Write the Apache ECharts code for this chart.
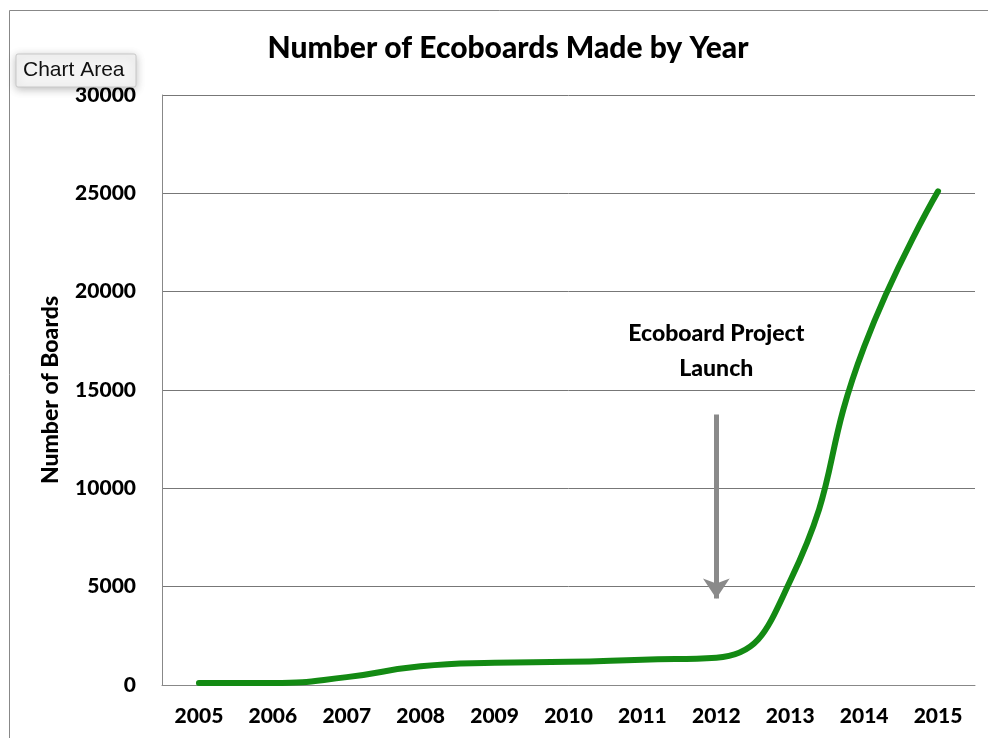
<!DOCTYPE html>
<html>
<head>
<meta charset="utf-8">
<script src="https://cdn.jsdelivr.net/npm/echarts@6/dist/echarts.min.js"></script>
<style>
html,body{margin:0;padding:0;background:#fff;}
#c{width:988px;height:738px;}
</style>
</head>
<body>
<div id="c"></div>
<script>
const years = ['2005','2006','2007','2008','2009','2010','2011','2012','2013','2014','2015'];
const boards = [100, 100, 400, 950, 1130, 1180, 1290, 1390, 5300, 17200, 25100];
const yTicks = {min: 0, max: 30000, interval: 5000};
const annotationText = 'Ecoboard Project\nLaunch';
const annotationYear = '2012';
const arrowFrom = 13750;
const arrowTo = 4400;
const annotationTextAt = 17000;

const chart = echarts.init(document.getElementById('c'), null, {renderer: 'canvas'});
const FONT = 'Lato';
const W = 900;
chart.setOption({
  backgroundColor: '#ffffff',
  animation: false,
  title: {
    text: 'Number of Ecoboards Made by Year',
    left: 503, top: 28, textAlign: 'center',
    textStyle: {fontFamily: FONT, fontWeight: W, fontSize: 30, color: '#000'}
  },
  graphic: [
    {type: 'rect', shape: {x: 9.5, y: 10.5, width: 1100, height: 800}, style: {fill: 'none', stroke: '#888', lineWidth: 1}, silent: true},
    {type: 'rect', shape: {x: 16, y: 54, width: 120, height: 33, r: 2}, z: 100,
      style: {fill: '#f4f4f4', stroke: '#c8c8c8', lineWidth: 1, shadowBlur: 8, shadowColor: 'rgba(0,0,0,0.25)', shadowOffsetY: 2}},
    {type: 'text', left: 23, top: 60, z: 101,
      style: {text: 'Chart Area', font: '21px "Liberation Sans", Arial, sans-serif', fill: '#111'}}
  ],
  grid: {left: 162, right: 13, top: 95, bottom: 53, containLabel: false},
  xAxis: {
    type: 'category', data: years, boundaryGap: true,
    axisLine: {show: true, lineStyle: {color: '#888', width: 1}},
    axisTick: {show: false},
    axisLabel: {fontFamily: FONT, fontWeight: W, fontSize: 21, color: '#000', margin: 21},
    splitLine: {show: false}
  },
  yAxis: {
    type: 'value', min: yTicks.min, max: yTicks.max, interval: yTicks.interval,
    name: 'Number of Boards', nameLocation: 'middle', nameGap: 100, nameRotate: 90,
    nameTextStyle: {fontFamily: FONT, fontWeight: W, fontSize: 23, color: '#000'},
    axisLine: {show: true, lineStyle: {color: '#888', width: 1}},
    axisTick: {show: false},
    axisLabel: {fontFamily: FONT, fontWeight: W, fontSize: 21, color: '#000', margin: 26, formatter: v => String(v)},
    splitLine: {show: true, lineStyle: {color: '#777', width: 1}}
  },
  series: [{
    type: 'line', data: boards, smooth: 0.5, symbol: 'none',
    lineStyle: {color: '#138a13', width: 6, cap: 'round'},
    markLine: {
      silent: true, symbol: ['none', 'arrow'], symbolSize: [20, 20],
      lineStyle: {color: '#8a8a8a', width: 5, type: 'solid'},
      label: {show: false},
      data: [[{coord: [annotationYear, arrowFrom]}, {coord: [annotationYear, arrowTo]}]]
    },
    markPoint: {
      silent: true, symbol: 'circle', symbolSize: 0,
      label: {show: true, formatter: annotationText, fontFamily: FONT, fontWeight: W, fontSize: 23, color: '#000', lineHeight: 35, align: 'center', verticalAlign: 'middle', position: 'inside'},
      data: [{coord: [annotationYear, annotationTextAt]}]
    }
  }]
});
</script>
</body>
</html>
